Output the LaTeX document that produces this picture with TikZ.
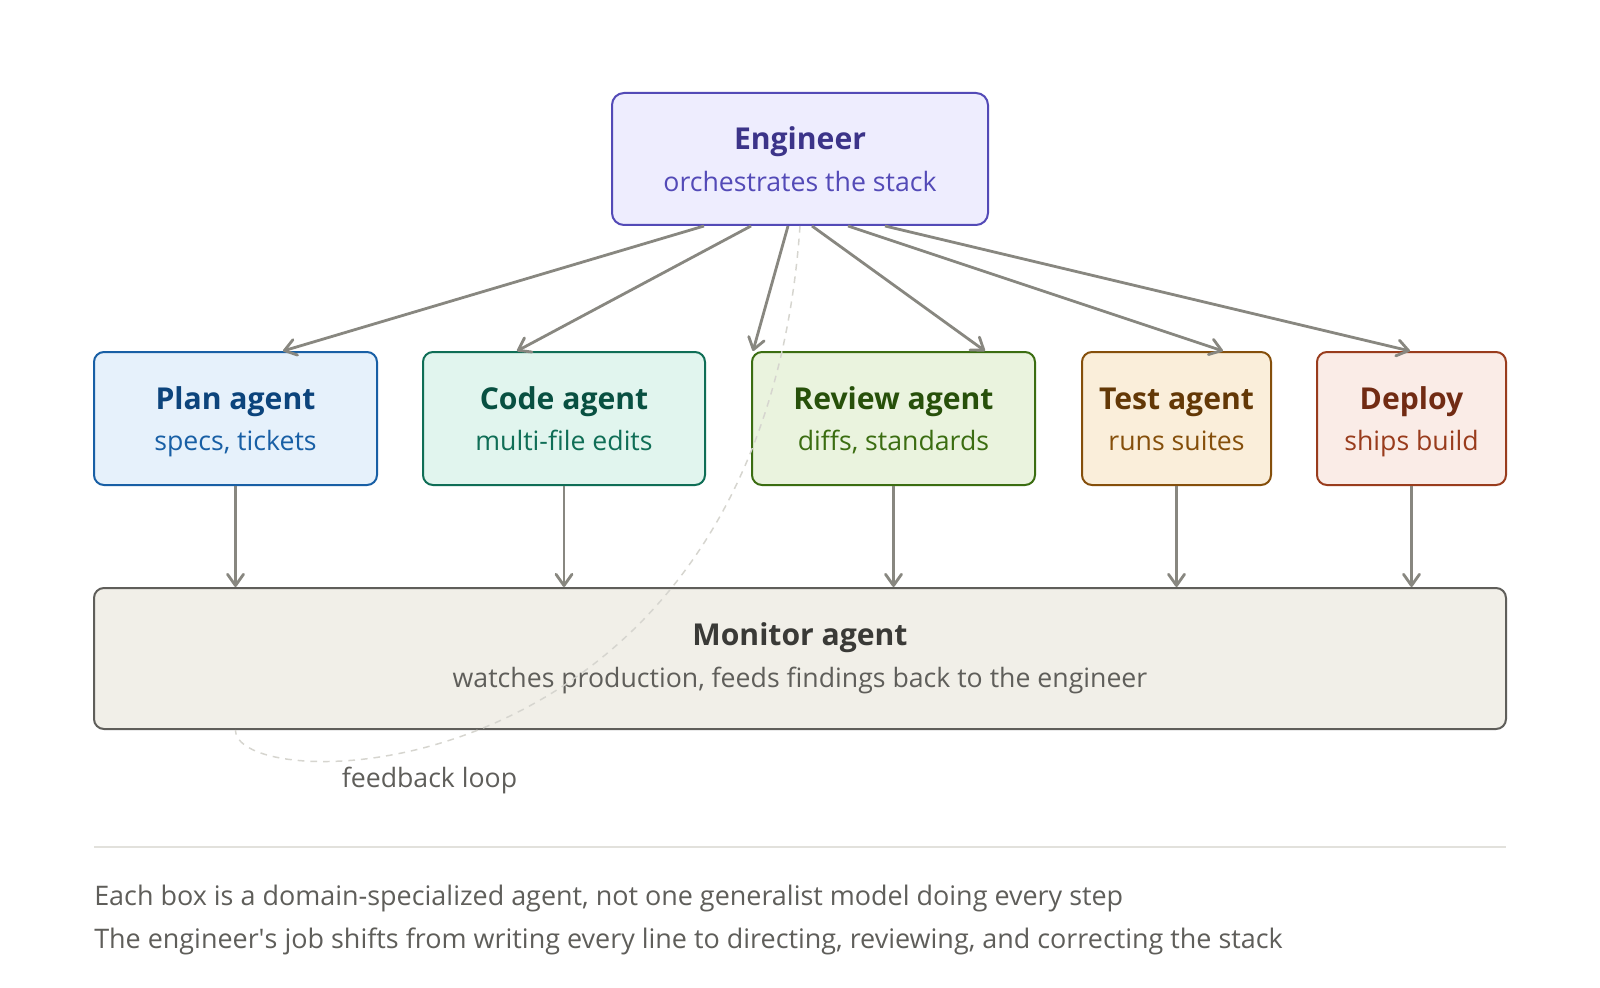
\documentclass[tikz,border=0pt]{standalone}
\usepackage{fontspec}
\setmainfont{Open Sans}
\usetikzlibrary{arrows.meta,calc}
\definecolor{engF}{HTML}{EEEDFE}\definecolor{engD}{HTML}{534AB7}\definecolor{engT}{HTML}{3C3489}
\definecolor{plaF}{HTML}{E6F1FB}\definecolor{plaD}{HTML}{185FA5}\definecolor{plaT}{HTML}{0C447C}
\definecolor{codF}{HTML}{E1F5EE}\definecolor{codD}{HTML}{0F6E56}\definecolor{codT}{HTML}{085041}
\definecolor{revF}{HTML}{EAF3DE}\definecolor{revD}{HTML}{3B6D11}\definecolor{revT}{HTML}{27500A}
\definecolor{tesF}{HTML}{FAEEDA}\definecolor{tesD}{HTML}{854F0B}\definecolor{tesT}{HTML}{633806}
\definecolor{depF}{HTML}{FAECE7}\definecolor{depD}{HTML}{993C1D}\definecolor{depT}{HTML}{712B13}
\definecolor{monF}{HTML}{F1EFE8}\definecolor{monD}{HTML}{5F5E5A}\definecolor{monT}{HTML}{3A3A37}
\definecolor{arrC}{HTML}{888780}\definecolor{fbC}{HTML}{D6D5CF}\definecolor{sepC}{HTML}{E2E1DC}
\definecolor{txtC}{HTML}{5F5E5A}
\begin{document}
\begin{tikzpicture}[x=0.75pt,y=-0.75pt,
  box/.style={draw, line width=1.5pt, rounded corners=7.5pt, inner sep=0pt, minimum height=99.75pt},
  ttl/.style={font=\fontsize{22.6pt}{27pt}\selectfont\bfseries, inner sep=0pt, anchor=base},
  sub/.style={font=\fontsize{20pt}{24pt}\selectfont, inner sep=0pt, anchor=base},
  arr/.style={draw=arrC, line width=2.1pt, -{Straight Barb[length=8.5pt,width=12pt,round]}},
  fb/.style={draw=fbC, line width=1.1pt, dash pattern=on 5pt off 4.5pt},
  foot/.style={font=\fontsize{20.2pt}{24pt}\selectfont, text=txtC, inner sep=0pt, anchor=base west}]
\useasboundingbox[fill=white] (0,0) rectangle (1600,988);

% boxes
\node[box, rounded corners=9pt, fill=engF, draw=engD, minimum width=282pt, minimum height=99pt] (eng) at (800,159) {};
\node[box, fill=plaF, draw=plaD, minimum width=212.25pt] (plan) at (235.5,418.5) {};
\node[box, fill=codF, draw=codD, minimum width=211.5pt] (code) at (564,418.5) {};
\node[box, fill=revF, draw=revD, minimum width=212.25pt] (rev) at (893.5,418.5) {};
\node[box, fill=tesF, draw=tesD, minimum width=141.75pt] (test) at (1176.5,418.5) {};
\node[box, fill=depF, draw=depD, minimum width=141.75pt] (dep) at (1411.5,418.5) {};
\node[box, fill=monF, draw=monD, minimum width=1059pt, minimum height=105.75pt] (mon) at (800,658.5) {};

% texts
\node[ttl, text=engT] (engt) at (800,150) {Engineer};
\node[sub, text=engD] (engs) at (800,192) {orchestrates the stack};
\node[ttl, text=plaT] (plant) at (235.5,409) {Plan agent};
\node[sub, text=plaD] (plans) at (235.5,450) {specs, tickets};
\node[ttl, text=codT] (codet) at (564,409) {Code agent};
\node[sub, text=codD] (codes) at (564,450) {multi-file edits};
\node[ttl, text=revT] (revt) at (893.5,409) {Review agent};
\node[sub, text=revD] (revs) at (893.5,450) {diffs, standards};
\node[ttl, text=tesT] (testt) at (1176.5,409) {Test agent};
\node[sub, text=tesD] (tests) at (1176.5,450) {runs suites};
\node[ttl, text=depT] (dept) at (1411.5,409) {Deploy};
\node[sub, text=depD] (deps) at (1411.5,450) {ships build};
\node[ttl, text=monT] (mont) at (800,645) {Monitor agent};
\node[sub, text=monD] (mons) at (800,687) {watches production, feeds findings back to the engineer};

% arrows from engineer
\draw[arr] ($(eng.south)+(-96,0)$) -- ($(plan.north)+(47.5,0)$);
\draw[arr] ($(eng.south)+(-49,0)$) -- ($(code.north)+(-47,0)$);
\draw[arr] ($(eng.south)+(-12,0)$) -- ($(rev.north west)+(2,0)$);
\draw[arr] ($(eng.south)+(12,0)$) -- ($(rev.north)+(91.5,0)$);
\draw[arr] ($(eng.south)+(48,0)$) -- ($(test.north)+(46.5,0)$);
\draw[arr] ($(eng.south)+(85,0)$) -- ($(dep.north)+(-1.5,0)$);

% arrows to monitor
\draw[arr] (plan.south) -- (plan.south |- mon.north);
\draw[arr] (code.south) -- (code.south |- mon.north);
\draw[arr] (rev.south) -- (rev.south |- mon.north);
\draw[arr] (test.south) -- (test.south |- mon.north);
\draw[arr] (dep.south) -- (dep.south |- mon.north);

% feedback loop
\draw[fb] (eng.south) .. controls (760,800) and (235,800) .. (plan.south |- mon.south);
\node[sub, text=txtC] (fbl) at (429.5,787) {feedback loop};

% separator and notes
\coordinate (s1) at (94,847);
\coordinate (s2) at (1506,847);
\draw[sepC, line width=1.5pt] (s1) -- (s2);
\node[foot] (f1) at (94,905) {Each box is a domain-specialized agent, not one generalist model doing every step};
\node[foot] (f2) at (94,948) {The engineer\textquotesingle s job shifts from writing every line to directing, reviewing, and correcting the stack};
\end{tikzpicture}
\end{document}
